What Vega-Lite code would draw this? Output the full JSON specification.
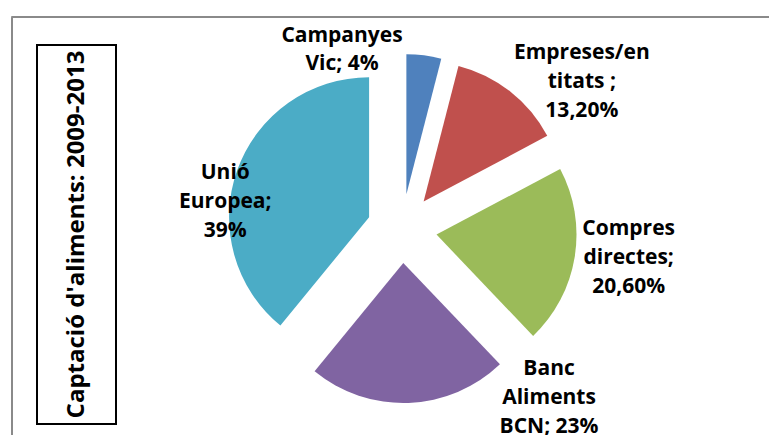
{
  "$schema": "https://vega.github.io/schema/vega-lite/v6.json",
  "padding": {"left": 10, "top": 15, "right": 0, "bottom": 0},
  "background": "white",
  "config": {"view": {"stroke": null}, "font": "Open Sans"},
  "spacing": 0,
  "bounds": "flush",
  "vconcat": [
    {
      "width": 758, "height": 1,
      "view": {"stroke": "#8a8a8a", "strokeWidth": 1},
      "data": {"values": [{}]},
      "mark": {"type": "point", "opacity": 0, "size": 0}
    },
    {
      "spacing": 23,
      "bounds": "full",
      "hconcat": [
        {
          "width": 1, "height": 418,
          "view": {"stroke": "#8a8a8a", "strokeWidth": 1},
          "data": {"values": [{}]},
          "mark": {"type": "point", "opacity": 0, "size": 0}
        },
        {
          "spacing": 27,
          "bounds": "flush",
          "vconcat": [
            {
              "width": 79, "height": 1,
              "data": {"values": [{}]},
              "mark": {"type": "point", "opacity": 0, "size": 0}
            },
            {
              "width": 79, "height": 379,
              "view": {"stroke": "black", "strokeWidth": 2},
              "data": {"values": [{"t": "Captació d'aliments: 2009-2013"}]},
              "mark": {"type": "text", "angle": 270, "fontSize": 24, "fontWeight": "bold", "font": "Open Sans", "color": "black", "align": "center", "baseline": "middle"},
              "encoding": {"text": {"field": "t", "type": "nominal"}}
            }
          ]
        },
        {
          "width": 526, "height": 418,
          "data": {"values": [
            {"cat": "Campanyes Vic", "value": 4, "ord": 1, "label": "Campanyes\nVic; 4%"},
            {"cat": "Empreses/entitats", "value": 13.2, "ord": 2, "label": "Empreses/en\ntitats ;\n13,20%"},
            {"cat": "Compres directes", "value": 20.6, "ord": 3, "label": "Compres\ndirectes;\n20,60%"},
            {"cat": "Banc Aliments BCN", "value": 23, "ord": 4, "label": "Banc\nAliments\nBCN; 23%"},
            {"cat": "Unió Europea", "value": 39, "ord": 5, "label": "Unió\nEuropea;\n39%"}
          ]},
          "transform": [
            {"stack": "value", "groupby": [], "sort": [{"field": "ord", "order": "ascending"}], "as": ["v0", "v1"]}
          ],
          "encoding": {
            "theta": {"field": "v0", "type": "quantitative", "scale": {"domain": [0, 99.8]}},
            "theta2": {"field": "v1"}
          },
          "layer": [
            {
              "encoding": {
                "color": {"field": "cat", "type": "nominal", "legend": null,
                  "scale": {"domain": ["Campanyes Vic", "Empreses/entitats", "Compres directes", "Banc Aliments BCN", "Unió Europea"],
                            "range": ["#4F81BD", "#C0504D", "#9BBB59", "#8064A2", "#4BACC6"]}}
              },
              "layer": [
                {
                  "transform": [{"filter": "datum.cat === 'Campanyes Vic'"}],
                  "mark": {"type": "arc", "outerRadius": 140, "xOffset": 3.4, "yOffset": -31.7}
                },
                {
                  "transform": [{"filter": "datum.cat === 'Empreses/entitats'"}],
                  "mark": {"type": "arc", "outerRadius": 140, "xOffset": 20.6, "yOffset": -24.5}
                },
                {
                  "transform": [{"filter": "datum.cat === 'Compres directes'"}],
                  "mark": {"type": "arc", "outerRadius": 140, "xOffset": 33.5, "yOffset": 8.6}
                },
                {
                  "transform": [{"filter": "datum.cat === 'Banc Aliments BCN'"}],
                  "mark": {"type": "arc", "outerRadius": 140, "xOffset": 0.3, "yOffset": 37}
                },
                {
                  "transform": [{"filter": "datum.cat === 'Unió Europea'"}],
                  "mark": {"type": "arc", "outerRadius": 140, "xOffset": -33.9, "yOffset": -8.8}
                }
              ]
            },
            {
              "transform": [{"filter": "datum.cat === 'Campanyes Vic'"}],
              "mark": {"type": "text", "radius": 200, "dx": -61, "dy": 10, "fontSize": 21, "fontWeight": "bold", "lineBreak": "\n", "lineHeight": 28, "align": "center", "baseline": "middle", "color": "black"},
              "encoding": {"text": {"field": "label"}}
            },
            {
              "transform": [{"filter": "datum.cat === 'Empreses/entitats'"}],
              "mark": {"type": "text", "radius": 200, "dx": 129, "dy": 21, "fontSize": 21, "fontWeight": "bold", "lineBreak": "\n", "lineHeight": 29, "align": "center", "baseline": "middle", "color": "black"},
              "encoding": {"text": {"field": "label"}}
            },
            {
              "transform": [{"filter": "datum.cat === 'Compres directes'"}],
              "mark": {"type": "text", "radius": 200, "dx": 49, "dy": 97, "fontSize": 21, "fontWeight": "bold", "lineBreak": "\n", "lineHeight": 29, "align": "center", "baseline": "middle", "color": "black"},
              "encoding": {"text": {"field": "label"}}
            },
            {
              "transform": [{"filter": "datum.cat === 'Banc Aliments BCN'"}],
              "mark": {"type": "text", "radius": 200, "dx": 8, "dy": -2, "fontSize": 21, "fontWeight": "bold", "lineBreak": "\n", "lineHeight": 29, "align": "center", "baseline": "middle", "color": "black"},
              "encoding": {"text": {"field": "label"}}
            },
            {
              "transform": [{"filter": "datum.cat === 'Unió Europea'"}],
              "mark": {"type": "text", "radius": 200, "dx": -51, "dy": -208, "fontSize": 21, "fontWeight": "bold", "lineBreak": "\n", "lineHeight": 29, "align": "center", "baseline": "middle", "color": "black"},
              "encoding": {"text": {"field": "label"}}
            }
          ]
        }
      ]
    }
  ]
}
